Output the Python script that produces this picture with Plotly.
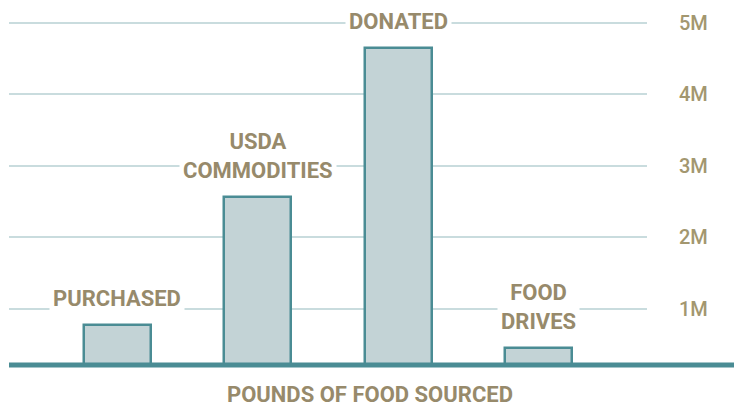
import plotly.graph_objects as go

categories = ["PURCHASED", "USDA COMMODITIES", "DONATED", "FOOD DRIVES"]
label_text = ["PURCHASED", "USDA<br>COMMODITIES", "DONATED", "FOOD<br>DRIVES"]
pounds = [780000, 2560000, 4640000, 460000]
tick_vals = [1000000, 2000000, 3000000, 4000000, 5000000]
tick_text = ["1M", "2M", "3M", "4M", "5M"]

TAN = "#978a6b"
TEAL = "#4a8c94"
FILL = "#c3d3d6"
GRID = "#c9dcde"

fig = go.Figure()
fig.add_trace(go.Bar(
    x=categories, y=pounds, width=0.477,
    marker=dict(color=FILL, line=dict(color=TEAL, width=2.5)),
    hoverinfo="skip",
))

for c, t, v in zip(categories, label_text, pounds):
    fig.add_annotation(
        x=c, y=v, xref="x", yref="y", text=t, showarrow=False,
        yanchor="bottom", yshift=10, bgcolor="white", borderpad=3,
        font=dict(family="Roboto", size=22, color=TAN, weight="bold"),
    )

fig.add_annotation(
    x=(362 - 1) / 638, y=0, xref="paper", yref="paper",
    text="POUNDS OF FOOD SOURCED", showarrow=False,
    yanchor="middle", yshift=-29,
    font=dict(family="Roboto", size=22, color=TAN, weight="bold"),
)

fig.add_shape(
    type="line", xref="paper", yref="paper",
    x0=0, x1=(734 - 1) / 638, y0=0, y1=0,
    line=dict(color=TEAL, width=5), layer="above",
)

fig.update_layout(
    width=734, height=398,
    margin=dict(l=1, r=95, t=2, b=41),
    paper_bgcolor="white", plot_bgcolor="white",
    showlegend=False,
    bargap=0,
    xaxis=dict(
        type="category", range=[-0.769, 3.772],
        showticklabels=False, showgrid=False, zeroline=False, showline=False,
        fixedrange=True,
    ),
    yaxis=dict(
        side="right", range=[218000, 5175000],
        tickvals=tick_vals, ticktext=tick_text,
        showgrid=True, gridcolor=GRID, gridwidth=1.5,
        zeroline=False, showline=False,
        ticks="", ticklabelstandoff=31,
        tickfont=dict(family="Roboto", size=20, color="#a3976f", weight=500),
        fixedrange=True,
    ),
)

fig.write_html("out.html")
